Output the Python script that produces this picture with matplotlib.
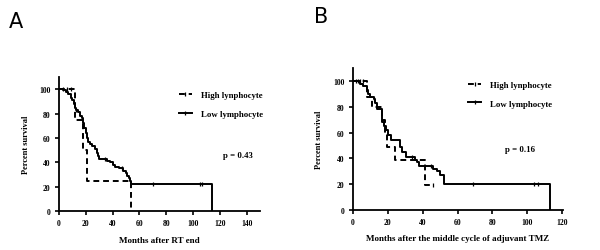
import matplotlib
matplotlib.use("Agg")
import matplotlib.pyplot as plt
from matplotlib.lines import Line2D

# ---------------- data ----------------
# Panel A: months after RT end
a_high_t = [0, 12, 18, 21, 53.5]
a_high_s = [100, 75, 50, 25, 0]
a_high_cens_t = [3, 6, 9]
a_high_cens_s = [100, 100, 100]

a_low_t = [0, 3, 5, 7, 9, 10, 11, 12, 13, 14, 16, 17, 18, 19, 20, 21, 22, 23, 25, 27,
           28, 29, 30, 36, 38, 40, 42, 45, 48, 50, 51, 52, 53, 54, 114]
a_low_s = [100, 99, 98, 96, 93, 91, 88, 85, 83, 81, 78, 76, 72, 68, 64, 60, 57, 55, 53, 51,
           48, 45, 43, 41, 40, 38, 36, 35, 33, 31, 29, 27, 25, 22, 0]
a_low_cens_t = [13, 34, 47, 70, 105, 107]
a_low_cens_s = [83, 43, 35, 22, 22, 22]

# Panel B: months after the middle cycle of adjuvant TMZ
b_high_t = [0, 8, 11, 17, 18.5, 19.5, 24.5, 41.5]
b_high_s = [100, 88, 80, 70, 59, 49, 39, 19.5]
b_high_end = 45.7
b_high_cens_t = [2, 4, 6, 45.7]
b_high_cens_s = [100, 100, 100, 19.5]

b_low_t = [0, 4, 6, 8, 9, 10, 12, 13, 14, 16.5, 17, 18, 19, 20, 22, 27, 28.5, 30.5,
           35.5, 37, 38, 46, 48, 50, 52, 113]
b_low_s = [100, 98, 96, 93, 90, 88, 86, 83, 78, 73, 68, 65, 62, 58, 54, 49, 45, 41,
           39, 37, 34, 32, 30, 27, 20, 0]
b_low_cens_t = [3, 12, 34, 45, 69, 104, 106]
b_low_cens_s = [100, 86, 41, 34, 20, 20, 20]

legend_labels = ["High lynphocyte", "Low lymphocyte"]
p_values = ["p = 0.43", "p = 0.16"]
x_labels = ["Months after RT end", "Months after the middle cycle of adjuvant TMZ"]
a_xticks = [0, 20, 40, 60, 80, 100, 120, 140]
b_xticks = [0, 20, 40, 60, 80, 100, 120]
yticks = [0, 20, 40, 60, 80, 100]

# ---------------- drawing ----------------
SERIF = ["Liberation Serif", "DejaVu Serif"]
fig = plt.figure(figsize=(6.0, 2.51), dpi=100)

def style_axes(ax, xlim, xticks, xlabel):
    ax.set_xlim(xlim)
    ax.set_ylim(0, 110)
    ax.set_xticks(xticks)
    ax.set_yticks(yticks)
    for s in ("top", "right"):
        ax.spines[s].set_visible(False)
    for s in ("left", "bottom"):
        ax.spines[s].set_linewidth(1.3)
    ax.tick_params(direction="out", length=3, width=1.2, pad=3, labelsize=5.5)
    for lab in ax.get_xticklabels() + ax.get_yticklabels():
        lab.set_fontfamily(SERIF)
        lab.set_fontweight("bold")
    ax.set_xlabel(xlabel, fontsize=6.5, fontweight="bold", family=SERIF, labelpad=6)
    ax.set_ylabel("Percent survival", fontsize=6.0, fontweight="bold", family=SERIF, labelpad=7)

def draw_curve(ax, t, s, ls, end=None):
    tt = list(t)
    ss = list(s)
    if end is not None:
        tt.append(end)
        ss.append(ss[-1])
    ax.step(tt, ss, where="post", color="black", lw=1.4, ls=ls)

def draw_cens(ax, t, s):
    ax.plot(t, s, ls="none", marker="|", ms=3, mew=0.9, color="black")

# Panel A
axA = fig.add_axes([0.0983, 0.1554, 0.335, 0.5336])
draw_curve(axA, a_high_t, a_high_s, (0, (3, 2)))
draw_cens(axA, a_high_cens_t, a_high_cens_s)
draw_curve(axA, a_low_t, a_low_s, "-")
draw_cens(axA, a_low_cens_t, a_low_cens_s)
style_axes(axA, (0, 150), a_xticks, x_labels[0])

# Panel B
axB = fig.add_axes([0.5878, 0.1606, 0.351, 0.5634])
draw_curve(axB, b_high_t, b_high_s, (0, (3, 2)), end=b_high_end)
draw_cens(axB, b_high_cens_t, b_high_cens_s)
draw_curve(axB, b_low_t, b_low_s, "-")
draw_cens(axB, b_low_cens_t, b_low_cens_s)
style_axes(axB, (0, 120.5), b_xticks, x_labels[1])

handles = [
    Line2D([], [], color="black", lw=1.4, ls=(0, (3, 2)), marker="|", ms=3, mew=0.9),
    Line2D([], [], color="black", lw=1.4, ls="-", marker="|", ms=3, mew=0.9),
]
for ax, loc in ((axA, (0.565, 0.94)), (axB, (0.52, 0.955))):
    ax.legend(handles, legend_labels, loc="upper left", bbox_to_anchor=loc,
              frameon=False, handlelength=1.5, handletextpad=1.0, labelspacing=1.2,
              numpoints=1, borderpad=0.2,
              prop={"family": SERIF, "weight": "bold", "size": 6.3})

axA.text(0.89, 0.415, p_values[0], transform=axA.transAxes, ha="center", va="center",
         fontsize=6.3, fontweight="bold", family=SERIF)
axB.text(0.795, 0.43, p_values[1], transform=axB.transAxes, ha="center", va="center",
         fontsize=6.3, fontweight="bold", family=SERIF)

fig.text(9 / 600, 1 - 22 / 251, "A", fontsize=15, ha="left", va="center", family="DejaVu Sans")
fig.text(314 / 600, 1 - 17 / 251, "B", fontsize=15, ha="left", va="center", family="DejaVu Sans")

fig.savefig("out.png", dpi=100, facecolor="white")
